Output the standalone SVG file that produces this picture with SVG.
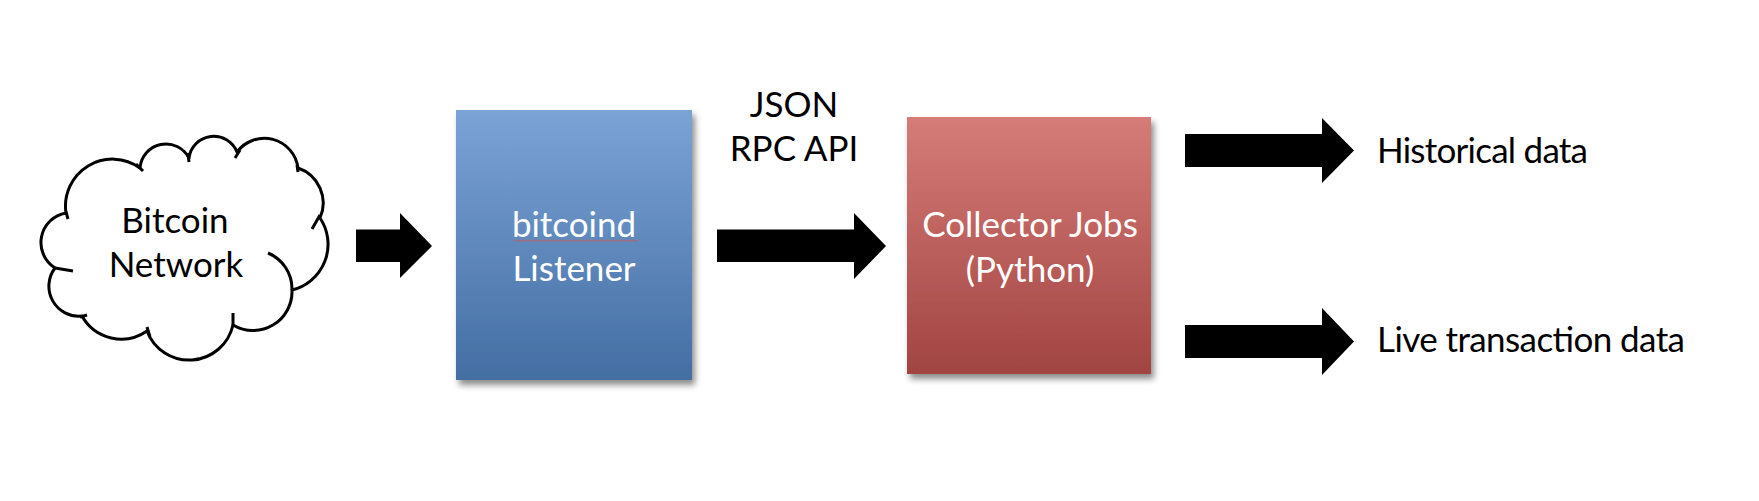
<svg xmlns="http://www.w3.org/2000/svg" width="1759" height="501" viewBox="0 0 1759 501">
<defs>
<linearGradient id="gBlue" x1="0" y1="0" x2="0" y2="1"><stop offset="0" stop-color="#7BA3D6"/><stop offset="1" stop-color="#446EA3"/></linearGradient>
<linearGradient id="gRed" x1="0" y1="0" x2="0" y2="1"><stop offset="0" stop-color="#D67C78"/><stop offset="1" stop-color="#A14442"/></linearGradient>
<filter id="sh" x="-10%" y="-10%" width="125%" height="125%"><feDropShadow dx="3" dy="5" stdDeviation="3" flood-color="#000" flood-opacity="0.45"/></filter>
<pattern id="wave" x="514" y="239" width="4" height="3" patternUnits="userSpaceOnUse"><path d="M0,0.5 L2,2.5 L4,0.5" fill="none" stroke="#D9534F" stroke-width="1"/></pattern>
</defs>
<style>
text{font-family:Lato,"Open Sans","Liberation Sans",sans-serif;font-size:35px}
.dark{fill:#000}
.light{fill:#fff}
.cloud{fill:#fff;stroke:#000;stroke-width:3;stroke-linecap:round;stroke-linejoin:round}
.hook{fill:none;stroke:#000;stroke-width:3;stroke-linecap:butt}
.arrow{fill:#000}
</style>
<rect width="1759" height="501" fill="#fff"/>
<g id="bitcoin-network">
<path class="cloud" d="M66,213 A47,47 0 0 1 140,168 A26,26 0 0 1 189,158 A25,25 0 0 1 237,152 A34,34 0 0 1 298,168 A37,37 0 0 1 320,218 A47,47 0 0 1 292,290 A39,39 0 0 1 233,325 A45,45 0 0 1 147,331 A45,45 0 0 1 82,316 A30,30 0 0 1 55,268 A30,30 0 0 1 66,213 Z"/>
<path class="hook" d="M66,212 L68,219 M136,164 L143,171 M188,153 L189,162 M240,150 L235,158 M297,165 L298,172 M320,215 L312,229 M268,253 A39,39 0 0 1 292,290 M233,313 L233,326 M147,327 L150,337 M80,317 L87,315 M55,268 L73,271"/>
<text class="dark" x="175" y="233" text-anchor="middle">Bitcoin</text>
<text class="dark" x="176" y="277" text-anchor="middle">Network</text>
</g>
<g id="bitcoind-listener">
<rect x="456" y="110" width="236" height="270" fill="url(#gBlue)" filter="url(#sh)"/>
<text class="light" x="574" y="237" text-anchor="middle">bitcoind</text>
<rect x="514" y="239" width="124" height="3" fill="url(#wave)"/>
<text class="light" x="574" y="281" text-anchor="middle">Listener</text>
</g>
<g id="collector-jobs">
<rect x="907" y="117" width="244" height="257" fill="url(#gRed)" filter="url(#sh)"/>
<text class="light" x="1030" y="237" text-anchor="middle">Collector Jobs</text>
<text class="light" x="1030" y="282" text-anchor="middle">(Python)</text>
</g>
<g id="historical-data">
<text class="dark" x="1377" y="163" textLength="211">Historical data</text>
</g>
<g id="live-data">
<text class="dark" x="1377" y="352" textLength="308">Live transaction data</text>
</g>
<g id="connectors">
<polygon class="arrow" points="356,229.5 400,229.5 400,213 432,246 400,278 400,262 356,262"/>
<polygon class="arrow" points="717,229.5 854,229.5 854,213 886,246 854,279 854,262 717,262"/>
<polygon class="arrow" points="1185,134 1322,134 1322,118 1354,150.5 1322,183 1322,167 1185,167"/>
<polygon class="arrow" points="1185,325 1322,325 1322,308 1354,341.5 1322,375 1322,358 1185,358"/>
<text class="dark" x="794" y="117" text-anchor="middle">JSON</text>
<text class="dark" x="794" y="161" text-anchor="middle">RPC API</text>
</g>
</svg>
